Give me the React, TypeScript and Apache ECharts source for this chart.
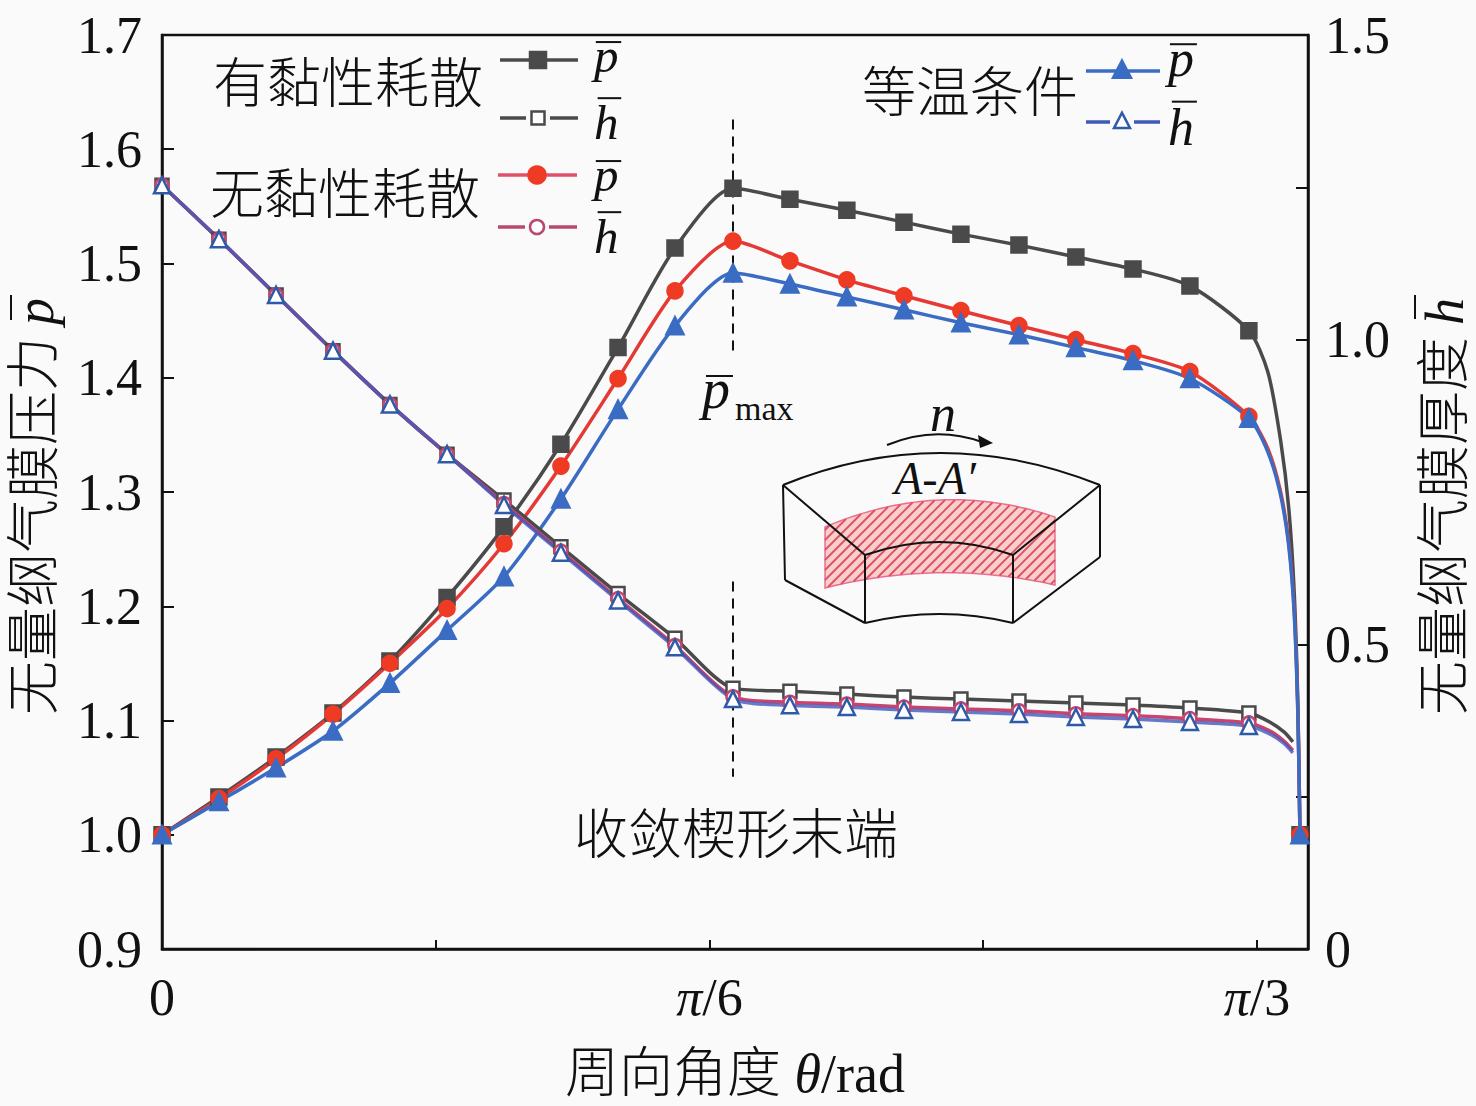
import React, { useEffect, useRef } from "react";
import * as echarts from "echarts";

// ---------- data (θ in degrees; π/6 = 30, π/3 = 60) ----------
const theta = [0, 3.12, 6.25, 9.37, 12.49, 15.62, 18.74, 21.86, 24.99, 28.11, 31.29, 34.41, 37.53, 40.66, 43.78, 46.96, 50.08, 53.21, 56.33, 59.56];
const pViscous = [1.0, 1.033, 1.068, 1.1065, 1.152, 1.2076, 1.2695, 1.3418, 1.4264, 1.5135, 1.5658, 1.5562, 1.5466, 1.5362, 1.5257, 1.5161, 1.5057, 1.4952, 1.4804, 1.4412];
const pInviscid = [1.0, 1.0316, 1.0664, 1.1056, 1.1501, 1.198, 1.2547, 1.3227, 1.3993, 1.476, 1.5196, 1.5023, 1.4857, 1.4718, 1.4587, 1.4456, 1.4333, 1.4211, 1.4054, 1.3662];
const pIso = [1.0, 1.029, 1.0586, 1.0908, 1.1327, 1.1789, 1.2259, 1.2939, 1.3723, 1.4455, 1.4917, 1.4821, 1.4708, 1.4595, 1.4481, 1.4377, 1.4264, 1.415, 1.3993, 1.3645];
const hViscous = [1.2533, 1.165, 1.0735, 0.982, 0.8938, 0.8121, 0.7369, 0.6601, 0.5833, 0.5098, 0.4281, 0.4232, 0.4183, 0.4134, 0.4101, 0.4069, 0.4036, 0.4003, 0.3954, 0.3873];
const hInviscid = [1.2533, 1.165, 1.0735, 0.982, 0.8938, 0.8121, 0.731, 0.653, 0.575, 0.498, 0.414, 0.405, 0.402, 0.397, 0.394, 0.391, 0.386, 0.383, 0.378, 0.371];
const hIso = [1.2533, 1.165, 1.0735, 0.982, 0.8938, 0.8121, 0.7288, 0.6503, 0.5719, 0.4951, 0.4101, 0.4, 0.3971, 0.3922, 0.3889, 0.3856, 0.3807, 0.3775, 0.3725, 0.366];

// steep end of the pressure curves (no markers)
const pTailTheta = [60.6, 61.3, 61.75, 62.05, 62.25];
const pViscousTail = [1.405, 1.345, 1.285, 1.21, 1.11];
const pInviscidTail = [1.338, 1.3, 1.255, 1.195, 1.105];
const pIsoTail = [1.335, 1.297, 1.252, 1.192, 1.102];
const pEndTheta = 62.36;
const pEnd = 1.0;

// end of the film thickness curves (no markers)
const hTailTheta = [60.7, 61.5, 61.97];
const hViscousTail = [0.3725, 0.356, 0.34];
const hInviscidTail = [0.358, 0.341, 0.326];
const hIsoTail = [0.353, 0.337, 0.322];

// wedge end marker (θ, left-axis values of the two dashed segments)
const wedgeEndTheta = 31.29;
const wedgeSeg1 = [1.626, 1.421];
const wedgeSeg2 = [1.2216, 1.0508];

const xTickLabels: Record<number, string> = { 0: "0", 30: "{i|π}/6", 60: "{i|π}/3" };

// ---------- styles ----------
const SERIF = '"Liberation Serif", "Times New Roman", serif';
const CJK = '"Liberation Serif", "Noto Sans CJK SC", sans-serif';
const C_GRAY = "#4a4a4a";
const C_RED = "#e53935";
const C_RED_M = "#ef3a24";
const C_PINK = "#c8436e";
const C_BLUE = "#3b6cc4";
const C_BLUE_H = "#4158bb";

function buildData(main: number[], tailT: number[], tail: number[], endT?: number, endV?: number) {
  const d: any[] = theta.map((t, i) => [t, main[i]]);
  tailT.forEach((t, i) => d.push({ value: [t, tail[i]], symbol: "none" }));
  if (endT !== undefined) d.push([endT, endV]);
  return d;
}

const txt = (x: number, y: number, text: string, o: any = {}) => ({
  type: "text",
  x,
  y,
  z: 100,
  style: {
    text,
    fontSize: o.size ?? 54,
    fontFamily: o.family ?? CJK,
    fontStyle: o.italic ? "italic" : "normal",
    fontWeight: o.weight ?? "normal",
    fill: o.fill ?? "#111",
    align: o.align ?? "left",
    verticalAlign: o.va ?? "middle",
  },
});
const ln = (x1: number, y1: number, x2: number, y2: number, stroke: string, w = 3, dash?: number[]) => ({
  type: "line",
  z: 100,
  shape: { x1, y1, x2, y2 },
  style: { stroke, lineWidth: w, lineDash: dash },
});
const sq = (cx: number, cy: number, s: number, fill: string, stroke: string) => ({
  type: "rect",
  z: 101,
  shape: { x: cx - s / 2, y: cy - s / 2, width: s, height: s },
  style: { fill, stroke, lineWidth: 2.5 },
});
const circ = (cx: number, cy: number, r: number, fill: string, stroke: string) => ({
  type: "circle",
  z: 101,
  shape: { cx, cy, r },
  style: { fill, stroke, lineWidth: 2.5 },
});
const tri = (cx: number, cy: number, s: number, fill: string, stroke: string) => ({
  type: "polygon",
  z: 101,
  shape: { points: [[cx, cy - s * 0.58], [cx + s / 2, cy + s * 0.38], [cx - s / 2, cy + s * 0.38]] },
  style: { fill, stroke, lineWidth: 2.5 },
});

// legend sample lines (p: solid line + filled marker; h: broken line + open marker)
function legendSamples(xs: number, xe: number, xm: number, yP: number, yH: number, lineP: string, lineH: string, marker: (cx: number, cy: number, filled: boolean) => any) {
  return [
    ln(xs, yP, xe, yP, lineP, 3.5),
    marker(xm, yP, true),
    ln(xs, yH, xm - 12, yH, lineH, 3.5),
    ln(xm + 12, yH, xe, yH, lineH, 3.5),
    marker(xm, yH, false),
  ];
}
// italic symbol letter with an overline; b = baseline, s = font size
function barSym(x: number, b: number, t: "p" | "h", s: number) {
  const k = s / 54;
  const barY = t === "p" ? b - 33 * k : b - 45 * k;
  return [
    txt(x, b - 0.3375 * s, t, { family: SERIF, italic: true, size: s }),
    ln(x + (t === "p" ? 2 : 4) * k, barY, x + 30 * k, barY, "#111", 2),
  ];
}

function quadY(x: number, x0: number, y0: number, cy: number, x2: number, y2: number) {
  const t = (x - x0) / (x2 - x0);
  return (1 - t) * (1 - t) * y0 + 2 * t * (1 - t) * cy + t * t * y2;
}

function insetGraphics() {
  const bx0 = 825, bx1 = 1055;
  const top = (x: number) => quadY(x, bx0, 527, 478, bx1, 517);
  const bot = (x: number) => quadY(x, bx0, 588, 559, bx1, 585);
  const poly: number[][] = [];
  for (let x = bx0; x <= bx1; x += 5) poly.push([x, top(x)]);
  for (let x = bx1; x >= bx0; x -= 5) poly.push([x, bot(x)]);
  const els: any[] = [
    { type: "polygon", z: 90, shape: { points: poly }, style: { fill: "rgba(246,180,160,0.6)", stroke: "rgba(230,80,120,0.8)", lineWidth: 1.5 } },
  ];
  for (let c = bx0 + 480; c <= bx1 + 600; c += 10) {
    let xa = NaN, xb = NaN;
    for (let x = bx0; x <= bx1; x += 0.5) {
      const y = c - x;
      if (y >= top(x) && y <= bot(x)) {
        if (isNaN(xa)) xa = x;
        xb = x;
      }
    }
    if (!isNaN(xa) && xb - xa > 1) {
      els.push({ type: "line", z: 91, shape: { x1: xa, y1: c - xa, x2: xb, y2: c - xb }, style: { stroke: "#e04a78", lineWidth: 1.8 } });
    }
  }
  const k = "#111";
  const box = (shape: any) => ({ type: "bezierCurve", z: 95, shape, style: { stroke: k, lineWidth: 2, fill: "none" } });
  els.push(
    box({ x1: 783, y1: 485, x2: 1100, y2: 485, cpx1: 940, cpy1: 421 }),
    box({ x1: 865, y1: 555, x2: 1013, y2: 555, cpx1: 940, cpy1: 529 }),
    box({ x1: 865, y1: 623, x2: 1013, y2: 623, cpx1: 940, cpy1: 605 }),
    { ...ln(783, 485, 865, 555, k, 2), z: 95 },
    { ...ln(1100, 485, 1013, 555, k, 2), z: 95 },
    { ...ln(783, 485, 785, 580, k, 2), z: 95 },
    { ...ln(785, 580, 865, 623, k, 2), z: 95 },
    { ...ln(865, 555, 865, 623, k, 2), z: 95 },
    { ...ln(1013, 555, 1013, 623, k, 2), z: 95 },
    { ...ln(1100, 485, 1100, 557, k, 2), z: 95 },
    { ...ln(1100, 557, 1013, 623, k, 2), z: 95 },
    { type: "bezierCurve", z: 95, shape: { x1: 887, y1: 445, x2: 982, y2: 442, cpx1: 935, cpy1: 425 }, style: { stroke: k, lineWidth: 2, fill: "none" } },
    { type: "polygon", z: 95, shape: { points: [[993, 443], [978, 435], [980, 448]] }, style: { fill: k } },
    txt(943, 413, "n", { family: SERIF, italic: true, size: 52, align: "center" }),
    txt(935, 478, "A-A\u2032", { family: SERIF, italic: true, size: 46, align: "center" })
  );
  return els;
}

function buildOption() {
  const lineSeries = (name: string, data: any[], yAxisIndex: number, lineColor: string, symbol: string, size: number, fill: string, border: string, opacity = 1) => ({
    name,
    type: "line",
    yAxisIndex,
    data,
    smooth: 0.25,
    symbol,
    symbolSize: size,
    showAllSymbol: true,
    lineStyle: { color: lineColor, width: 3.5, opacity },
    itemStyle: { color: fill, borderColor: border, borderWidth: 2.5 },
    emphasis: { disabled: true },
  });

  const rightTitle = {
    type: "group",
    x: 1445,
    y: 500,
    rotation: Math.PI / 2,
    children: [
      txt(-215, 0, "无量纲气膜厚度", { weight: 300 }),
      txt(175, 0, "h", { family: SERIF, italic: true }),
      ln(181, -30, 205, -30, "#111", 2),
    ],
  };
  const leftTitle = {
    type: "group",
    x: 35,
    y: 500,
    rotation: Math.PI / 2,
    children: [
      txt(-215, 0, "无量纲气膜压力", { weight: 300 }),
      txt(175, 0, "p", { family: SERIF, italic: true }),
      ln(180, -24, 205, -24, "#111", 2),
    ],
  };

  const LX = 594; // x of legend symbol labels (left block)
  const graphics: any[] = [
    leftTitle,
    rightTitle,
    txt(213, 85, "有黏性耗散", { weight: 300 }),
    txt(210, 196, "无黏性耗散", { weight: 300 }),
    txt(862, 94, "等温条件", { weight: 300 }),
    ...legendSamples(500, 578, 538, 60, 118, C_GRAY, C_GRAY, (cx, cy, f) => sq(cx, cy, f ? 16 : 13, f ? C_GRAY : "#fff", C_GRAY)),
    ...legendSamples(498, 577, 537, 175, 227, "#e0506a", "#b84a6e", (cx, cy, f) => circ(cx, cy, f ? 8.5 : 7, f ? C_RED_M : "#fff", f ? C_RED_M : "#b84a6e")),
    ...legendSamples(1086, 1160, 1122, 71, 122, C_BLUE, C_BLUE_H, (cx, cy, f) => tri(cx, cy, f ? 18 : 16, f ? C_BLUE : "#fff", f ? C_BLUE : "#2f5aa8")),
    // left legend symbols
    ...barSym(LX, 72, "p", 49),
    ...barSym(LX, 139, "h", 49),
    ...barSym(LX, 191, "p", 49),
    ...barSym(LX, 253, "h", 49),
    // right legend symbols
    ...barSym(1168, 76, "p", 52),
    ...barSym(1168, 145, "h", 52),
    // p_max annotation
    txt(702, 389, "p", { family: SERIF, italic: true, size: 56 }),
    ln(706, 376, 733, 376, "#111", 2),
    txt(735, 408, "max", { family: SERIF, size: 34 }),
    txt(736, 836, "收敛楔形末端", { align: "center", weight: 300 }),
    ...insetGraphics(),
  ];

  const dashed = (data: number[]) => ({
    type: "line",
    yAxisIndex: 0,
    data: data.map((v) => [wedgeEndTheta, v]),
    symbol: "none",
    lineStyle: { color: "#111", width: 2, type: [10, 7] },
    emphasis: { disabled: true },
    z: 1,
  });

  return {
    animation: false,
    backgroundColor: "#fafafa",
    textStyle: { fontFamily: SERIF },
    grid: { left: 162, right: 168, top: 35, bottom: 153, show: true, borderColor: "#111", borderWidth: 2.5, backgroundColor: "transparent" },
    xAxis: {
      type: "value",
      min: 0,
      max: 62.8,
      interval: 15,
      axisLine: { show: true, lineStyle: { color: "#111", width: 2.5 } },
      axisTick: { show: true, inside: true, length: 9, lineStyle: { color: "#111", width: 2 } },
      splitLine: { show: false },
      axisLabel: {
        color: "#111",
        fontSize: 52,
        fontFamily: SERIF,
        margin: 22,
        formatter: (v: number) => xTickLabels[Math.round(v * 100) / 100] ?? "",
        rich: { i: { fontStyle: "italic", fontSize: 52, fontFamily: SERIF, color: "#111" } },
      },
      name: "周向角度 {i|θ}/rad",
      nameLocation: "middle",
      nameGap: 98,
      nameTextStyle: {
        color: "#111",
        fontSize: 54,
        fontFamily: CJK,
        fontWeight: 300,
        rich: { i: { fontStyle: "italic", fontSize: 54, fontFamily: SERIF, color: "#111" } },
      },
    },
    yAxis: [
      {
        type: "value",
        min: 0.9,
        max: 1.7,
        interval: 0.1,
        position: "left",
        axisLine: { show: true, lineStyle: { color: "#111", width: 2.5 } },
        axisTick: { show: true, inside: true, length: 12, lineStyle: { color: "#111", width: 2 } },
        splitLine: { show: false },
        axisLabel: { color: "#111", fontSize: 52, fontFamily: SERIF, margin: 20, formatter: (v: number) => v.toFixed(1) },
      },
      {
        type: "value",
        min: 0,
        max: 1.5,
        interval: 0.25,
        position: "right",
        axisLine: { show: true, lineStyle: { color: "#111", width: 2.5 } },
        axisTick: { show: true, inside: true, length: 12, lineStyle: { color: "#111", width: 2 } },
        splitLine: { show: false },
        axisLabel: {
          color: "#111",
          fontSize: 52,
          fontFamily: SERIF,
          margin: 17,
          formatter: (v: number) => (Math.abs(v * 2 - Math.round(v * 2)) < 1e-6 ? (v === 0 ? "0" : v.toFixed(1)) : ""),
        },
      },
    ],
    graphic: graphics,
    series: [
      dashed(wedgeSeg1),
      dashed(wedgeSeg2),
      lineSeries("p-viscous", buildData(pViscous, pTailTheta, pViscousTail, pEndTheta, pEnd), 0, C_GRAY, "rect", 15, C_GRAY, C_GRAY),
      lineSeries("p-inviscid", buildData(pInviscid, pTailTheta, pInviscidTail, pEndTheta, pEnd), 0, C_RED, "circle", 15, C_RED_M, C_RED_M),
      lineSeries("p-iso", buildData(pIso, pTailTheta, pIsoTail, pEndTheta, pEnd), 0, C_BLUE, "triangle", 17, C_BLUE, C_BLUE),
      lineSeries("h-viscous", buildData(hViscous, hTailTheta, hViscousTail), 1, C_GRAY, "rect", 13, "#fff", C_GRAY),
      lineSeries("h-inviscid", buildData(hInviscid, hTailTheta, hInviscidTail), 1, C_PINK, "circle", 13, "#fff", C_PINK),
      lineSeries("h-iso", buildData(hIso, hTailTheta, hIsoTail), 1, C_BLUE_H, "triangle", 16, "#fff", "#2f5aa8", 0.8),
    ],
  };
}

export default function App() {
  const ref = useRef<HTMLDivElement>(null);
  useEffect(() => {
    document.body.style.margin = "0";
    document.body.style.overflow = "hidden";
    if (!ref.current) return;
    const chart = echarts.init(ref.current, undefined, { renderer: "svg" });
    chart.setOption(buildOption() as any);
    return () => chart.dispose();
  }, []);
  return <div ref={ref} style={{ width: 1476, height: 1106 }} />;
}
